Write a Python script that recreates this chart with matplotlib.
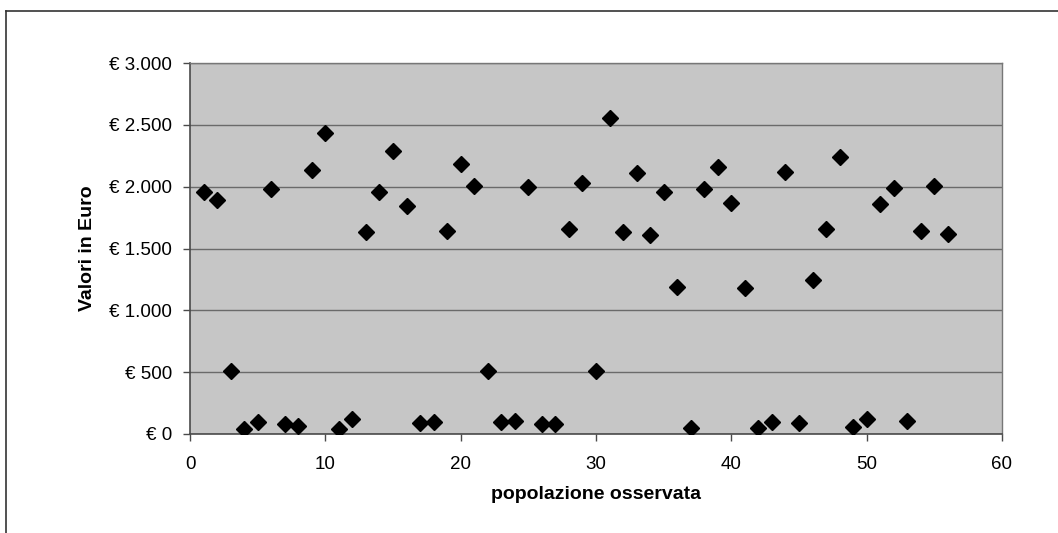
import matplotlib
matplotlib.use("Agg")
import matplotlib.pyplot as plt
from matplotlib.lines import Line2D
from matplotlib.ticker import FuncFormatter

# valori (popolazione osservata 1..56)
osservazioni = list(range(1, 57))
valori_euro = [
    1960, 1890, 510, 40, 97, 1980, 80, 65, 2135, 2433,
    40, 120, 1633, 1956, 2288, 1843, 90, 97, 1640, 2183,
    2005, 510, 97, 105, 1997, 80, 80, 1657, 2030, 510,
    2555, 1633, 2110, 1610, 1956, 1188, 50, 1980, 2160, 1870,
    1180, 50, 97, 2118, 90, 1245, 1657, 2240, 57, 120,
    1860, 1990, 105, 1640, 2005, 1617,
]
x_ticks = [0, 10, 20, 30, 40, 50, 60]
y_ticks = [0, 500, 1000, 1500, 2000, 2500, 3000]

plt.rcParams["font.family"] = ["Liberation Sans", "DejaVu Sans"]

fig = plt.figure(figsize=(10.58, 5.33), dpi=100)
ax = fig.add_axes([190 / 1058, 1 - 434 / 533, 812 / 1058, 371 / 533])

ax.set_facecolor("#c6c6c6")
ax.plot(osservazioni, valori_euro, "D", color="black", ms=8.5, zorder=3)

ax.set_xlim(0, 60)
ax.set_ylim(0, 3000)
ax.set_xticks(x_ticks)
ax.set_yticks(y_ticks)


def euro(v, pos):
    return "€ " + f"{int(v):,}".replace(",", ".")


ax.yaxis.set_major_formatter(FuncFormatter(euro))
ax.grid(axis="y", color="#6a6a6a", lw=1.0, zorder=1)
ax.set_axisbelow(True)

for lato in ["left", "bottom"]:
    ax.spines[lato].set_color("#4a4a4a")
    ax.spines[lato].set_linewidth(1.2)
for lato in ["top", "right"]:
    ax.spines[lato].set_color("#777777")
    ax.spines[lato].set_linewidth(1.0)

ax.tick_params(axis="y", direction="out", length=5, width=1, color="#4a4a4a",
               labelsize=13.5, pad=8)
ax.tick_params(axis="x", direction="out", length=5, width=1, color="#4a4a4a",
               labelsize=13.5, pad=11)

ax.set_xlabel("popolazione osservata", fontsize=14, fontweight="bold",
              labelpad=9)
ax.set_ylabel("Valori in Euro", fontsize=14, fontweight="bold",
              labelpad=9)

# cornice esterna (solo sinistra e sopra sono visibili)
fig.add_artist(Line2D([6 / 1058, 6 / 1058], [0, 1 - 11 / 533],
                      transform=fig.transFigure, color="#333333", lw=1.2))
fig.add_artist(Line2D([6 / 1058, 1], [1 - 11 / 533, 1 - 11 / 533],
                      transform=fig.transFigure, color="#333333", lw=1.2))

fig.savefig("out.png", dpi=100)
